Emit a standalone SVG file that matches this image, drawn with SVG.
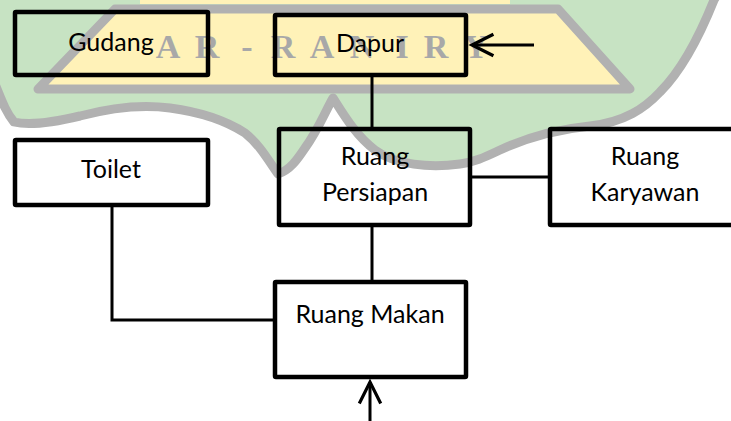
<svg xmlns="http://www.w3.org/2000/svg" width="731" height="421" viewBox="0 0 731 421">
<style>
.box{fill:none;stroke:#000;stroke-width:4.5;stroke-linejoin:round}
.lbl{font-family:Lato,"Open Sans","DejaVu Sans",sans-serif;font-size:25px;fill:#000;text-anchor:middle}
.con{fill:none;stroke:#000;stroke-width:3}
.wm-green{fill:#c7e3c3;stroke:#b1b1b1;stroke-width:9;stroke-linejoin:round}
.wm-yellow{fill:#fff2b8;stroke:#b1b1b1;stroke-width:9;stroke-linejoin:round}
.wm-text{font-family:"Liberation Serif","Times New Roman",serif;font-weight:bold;font-size:34px;fill:#a8a8a8;text-anchor:middle}
</style>
<defs>
<marker id="arr" markerUnits="userSpaceOnUse" markerWidth="30" markerHeight="30" viewBox="-24 -14 28 28" refX="0" refY="0" orient="auto">
<path d="M-20,-10 L0,0 L-20,10" fill="none" stroke="#000" stroke-width="3"/>
</marker>
</defs>
<rect width="731" height="421" fill="#fff"/>
<g id="watermark">
<path class="wm-green" d="M-10,-10 L720,-10 L714,0 C700,35 682,70 660,92 C645,108 625,122 590,126 C560,129 530,136 500,150 C485,157 475,162 460,164 C430,168 395,165 375,150 C355,135 342,112 333,98 C325,112 318,130 305,148 C297,160 290,170 278,174 C268,160 260,145 245,133 C225,120 200,112 170,108 C140,104 110,108 80,116 C55,122 30,126 14,122 C4,110 0,95 -10,72 Z"/>
<rect x="140" y="-20" width="370" height="24" fill="#fff2b8"/>
<path class="wm-yellow" d="M115,9 L558,9 L630,89 L38,89 Z"/>
<text class="wm-text" x="168 207 247 283 322 362 402 436 476" y="58">AR-RANIRY</text>
</g>
<g id="connectors">
<line class="con" x1="372" y1="77" x2="372" y2="128"/>
<line class="con" x1="472" y1="177" x2="549" y2="177"/>
<line class="con" x1="372" y1="227" x2="372" y2="281"/>
<polyline class="con" points="112,207 112,320 274,320"/>
<line class="con" x1="534" y1="45" x2="472" y2="45" marker-end="url(#arr)"/>
<line class="con" x1="370" y1="421" x2="370" y2="382" marker-end="url(#arr)"/>
</g>
<g id="gudang">
<rect class="box" x="15" y="12" width="193" height="63" rx="1"/>
<text class="lbl" x="111" y="51">Gudang</text>
</g>
<g id="dapur">
<rect class="box" x="275" y="15" width="191" height="60" rx="1"/>
<text class="lbl" x="370" y="52">Dapur</text>
</g>
<g id="toilet">
<rect class="box" x="15" y="140" width="193" height="65" rx="1"/>
<text class="lbl" x="111" y="178">Toilet</text>
</g>
<g id="ruang-persiapan">
<rect class="box" x="279" y="129" width="191" height="96" rx="1"/>
<text class="lbl" x="375" y="165">Ruang</text>
<text class="lbl" x="375" y="201">Persiapan</text>
</g>
<g id="ruang-karyawan">
<rect class="box" x="550" y="129" width="200" height="96" rx="1"/>
<text class="lbl" x="645" y="165">Ruang</text>
<text class="lbl" x="645" y="201">Karyawan</text>
</g>
<g id="ruang-makan">
<rect class="box" x="275" y="282" width="191" height="95" rx="1"/>
<text class="lbl" x="370" y="323">Ruang Makan</text>
</g>
</svg>
